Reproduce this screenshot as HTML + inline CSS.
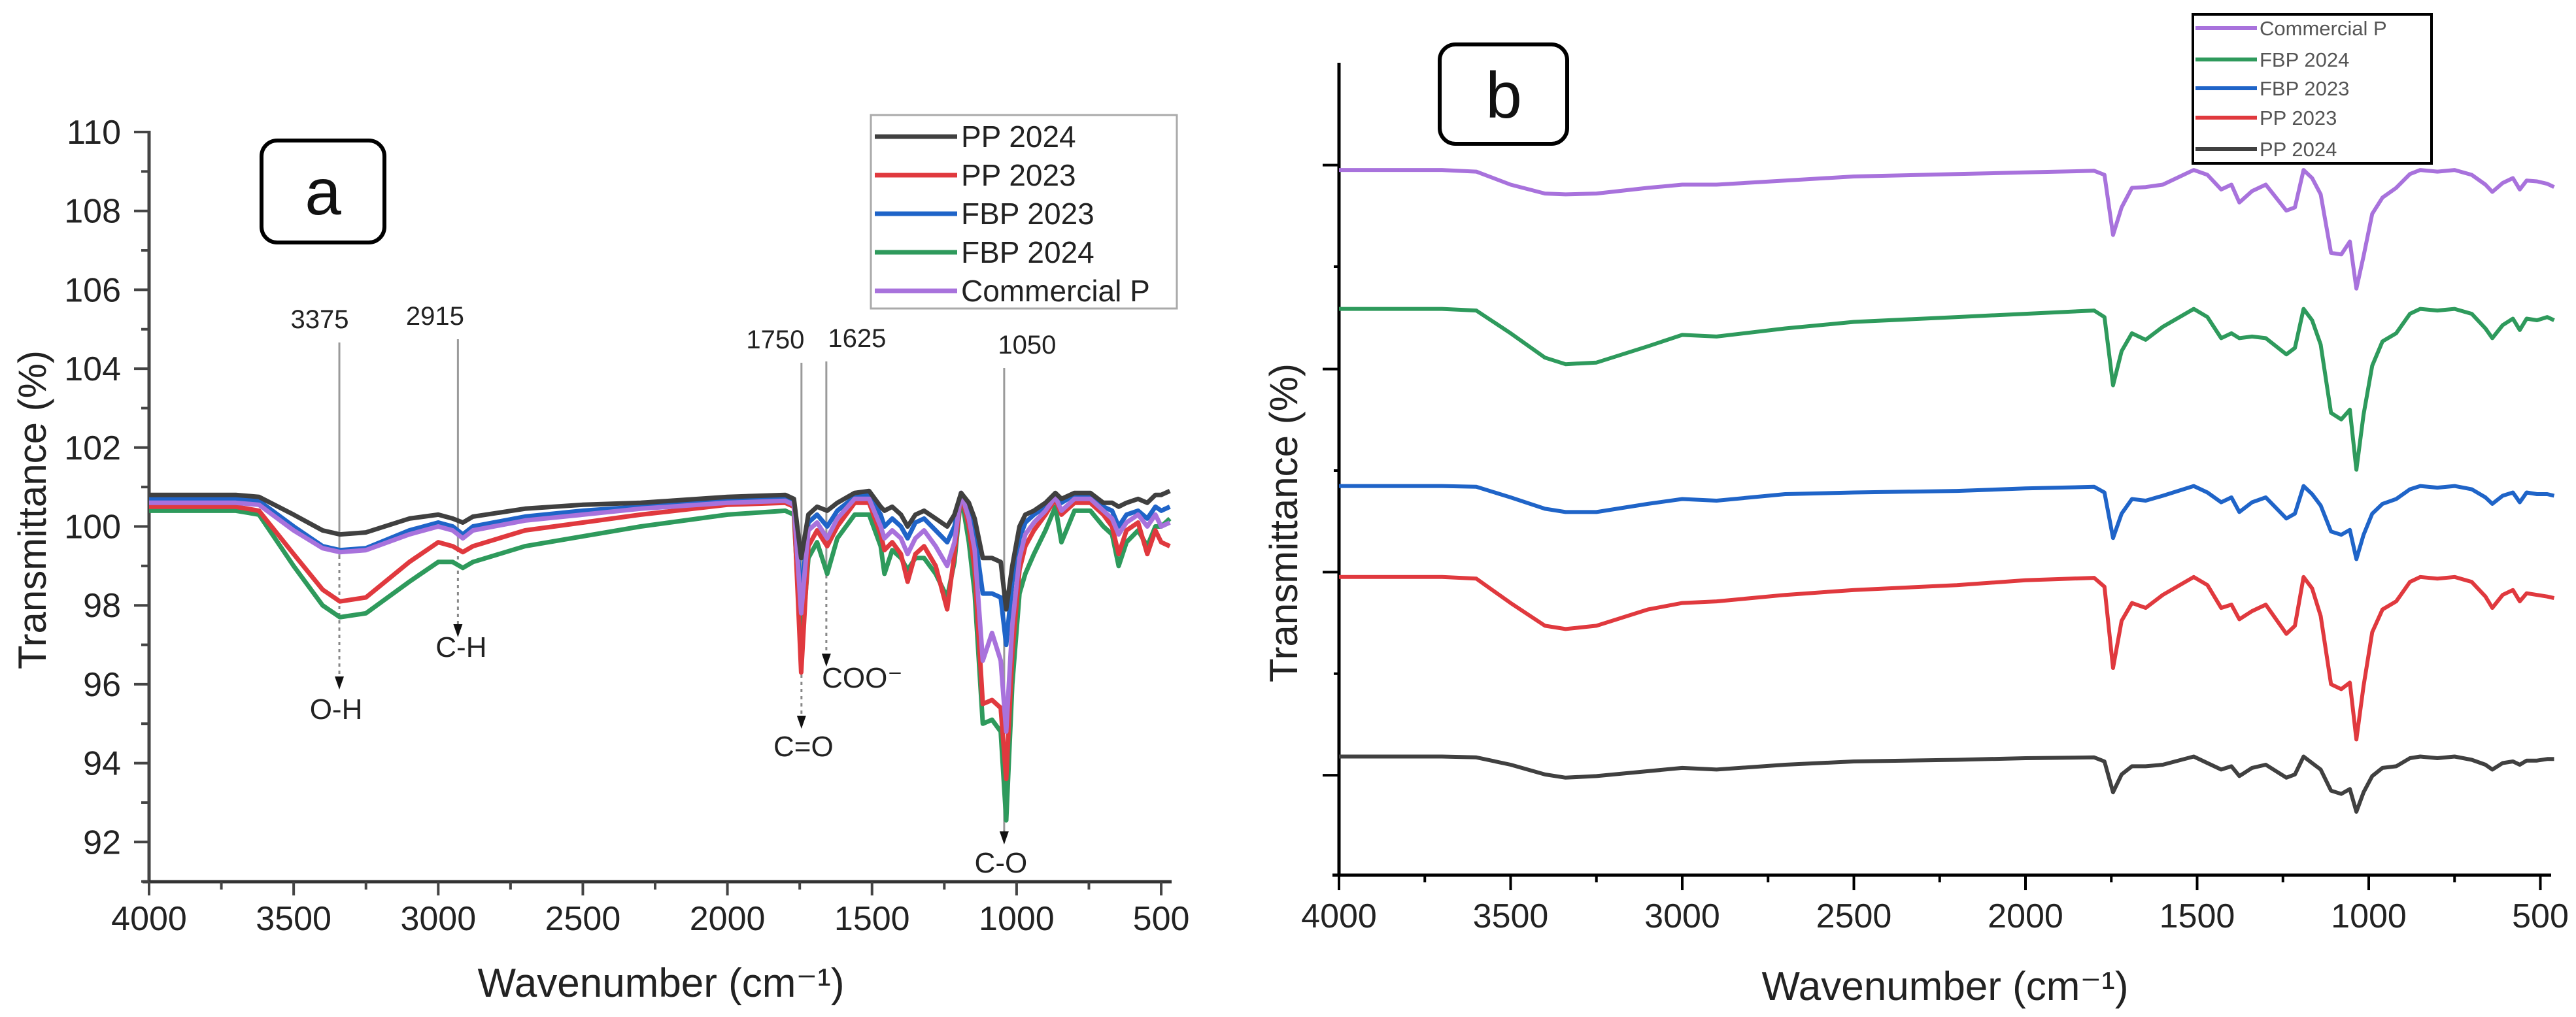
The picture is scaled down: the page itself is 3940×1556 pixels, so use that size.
<!DOCTYPE html>
<html><head><meta charset="utf-8"><style>
html,body{margin:0;padding:0;background:#fff;}
svg{display:block;font-family:"Liberation Sans",Arial,sans-serif;}
</style></head><body>
<svg id="fig" width="3940" height="1556" viewBox="0 0 3940 1556" xmlns="http://www.w3.org/2000/svg">
<rect width="3940" height="1556" fill="#fff"/>
<g id="pa"></g>
<g id="pb"></g>
</svg>
<script>
// ---------- Panel A data ----------
const wnA = [4000,3700,3620,3500,3400,3340,3250,3100,3000,2950,2915,2880,2700,2500,2300,2000,1800,1770,1745,1720,1690,1655,1620,1560,1510,1470,1457,1430,1400,1377,1350,1320,1280,1240,1215,1192,1165,1145,1117,1085,1055,1036,1015,990,970,940,900,866,845,800,745,700,670,647,620,580,548,520,500,470];
const aPP2024 = [100.8,100.8,100.75,100.3,99.9,99.8,99.85,100.2,100.3,100.2,100.1,100.25,100.45,100.55,100.6,100.75,100.8,100.7,99.2,100.3,100.5,100.4,100.6,100.85,100.9,100.5,100.4,100.5,100.3,100.0,100.3,100.4,100.2,100.0,100.3,100.85,100.6,100.2,99.2,99.2,99.1,97.9,99.0,100.0,100.3,100.4,100.6,100.85,100.7,100.85,100.85,100.6,100.6,100.5,100.6,100.7,100.6,100.8,100.8,100.9];
const aFBP2023 = [100.7,100.7,100.65,100.0,99.5,99.4,99.45,99.9,100.1,100.0,99.8,100.0,100.25,100.4,100.5,100.65,100.7,100.6,98.2,100.1,100.3,100.0,100.4,100.75,100.8,100.3,100.0,100.2,100.0,99.7,100.1,100.2,99.9,99.6,100.0,100.85,100.4,99.8,98.3,98.3,98.2,97.0,98.6,99.7,100.1,100.3,100.5,100.8,100.6,100.8,100.8,100.5,100.4,100.0,100.3,100.4,100.2,100.5,100.4,100.5];
const aComm = [100.6,100.6,100.55,99.9,99.45,99.35,99.4,99.8,100.0,99.9,99.7,99.9,100.15,100.3,100.45,100.6,100.65,100.55,97.8,99.9,100.1,99.7,100.2,100.7,100.7,100.0,99.7,99.9,99.7,99.3,99.7,99.9,99.5,99.0,99.6,100.85,100.2,99.4,96.6,97.3,96.6,94.8,97.5,99.2,99.8,100.1,100.4,100.75,100.4,100.7,100.7,100.4,100.2,99.8,100.1,100.3,100.0,100.3,100.0,100.1];
const aPP2023 = [100.5,100.5,100.4,99.3,98.4,98.1,98.2,99.1,99.6,99.5,99.35,99.5,99.9,100.1,100.3,100.55,100.6,100.5,96.3,99.5,99.9,99.5,100.0,100.6,100.6,99.8,99.4,99.6,99.3,98.6,99.3,99.5,99.0,97.9,99.3,100.85,100.0,98.9,95.5,95.6,95.4,93.6,96.8,98.9,99.5,99.9,100.3,100.7,100.3,100.6,100.6,100.3,100.0,99.3,99.9,100.1,99.3,99.9,99.6,99.5];
const aFBP2024 = [100.4,100.4,100.3,99.0,98.0,97.7,97.8,98.6,99.1,99.1,98.95,99.1,99.5,99.75,100.0,100.3,100.4,100.3,96.85,99.2,99.6,98.8,99.7,100.3,100.3,99.5,98.8,99.4,99.2,98.9,99.2,99.2,98.8,98.2,99.1,100.8,99.6,98.3,95.0,95.1,94.8,92.55,96.0,98.3,98.8,99.3,99.9,100.5,99.6,100.4,100.4,100.0,99.8,99.0,99.6,99.9,99.5,100.0,100.0,100.2];
const aYTicks = [92,94,96,98,100,102,104,106,108,110];
const aXTicks = [4000,3500,3000,2500,2000,1500,1000,500];
const aLegend = ["PP 2024","PP 2023","FBP 2023","FBP 2024","Commercial P"];
const annWn = [3342,2932,1744,1658,1043];
const annNum = ["3375","2915","1750","1625","1050"];
const annGroup = ["O-H","C-H","C=O","COO⁻","C-O"];

// ---------- Panel B data (relative, a.u.) ----------
const wnB = [4000,3700,3600,3500,3400,3340,3250,3100,3000,2900,2700,2500,2200,2000,1800,1770,1745,1720,1690,1650,1600,1510,1470,1430,1400,1377,1340,1300,1240,1215,1190,1165,1140,1110,1080,1055,1036,1015,990,960,920,880,850,800,750,700,660,640,610,580,560,540,510,480,460];
const bOffsets = [86.8,69.7,47.9,36.7,14.6];
const bComm = [0,0,-0.2,-1.8,-2.9,-3.0,-2.9,-2.2,-1.8,-1.8,-1.3,-0.8,-0.5,-0.3,-0.1,-0.6,-8.0,-4.6,-2.2,-2.1,-1.8,0,-0.6,-2.4,-1.8,-4.0,-2.6,-1.8,-5.0,-4.6,0,-1.0,-3.0,-10.2,-10.4,-8.8,-14.6,-10.6,-5.4,-3.4,-2.2,-0.5,0,-0.2,0,-0.6,-1.8,-2.7,-1.6,-1.0,-2.4,-1.3,-1.4,-1.7,-2.1];
const bFBP2024 = [0,0,-0.2,-3.0,-6.0,-6.8,-6.6,-4.6,-3.2,-3.4,-2.4,-1.6,-1.0,-0.6,-0.2,-1.0,-9.4,-5.2,-3.0,-3.8,-2.2,0,-1.0,-3.6,-3.0,-3.6,-3.4,-3.6,-5.6,-4.8,0,-1.4,-4.4,-12.8,-13.6,-12.4,-19.8,-13.0,-7.0,-4.0,-3.0,-0.6,0,-0.2,0,-0.6,-2.4,-3.6,-2.0,-1.2,-2.6,-1.2,-1.4,-1.0,-1.4];
const bFBP2023 = [0,0,-0.1,-1.4,-2.8,-3.2,-3.2,-2.2,-1.6,-1.8,-1.0,-0.8,-0.6,-0.3,-0.1,-0.8,-6.4,-3.4,-1.6,-1.8,-1.2,0,-0.8,-2.0,-1.4,-3.2,-2.0,-1.4,-4.0,-3.4,0,-1.0,-2.4,-5.6,-6.0,-5.4,-9.0,-6.0,-3.4,-2.2,-1.6,-0.4,0,-0.2,0,-0.4,-1.4,-2.2,-1.2,-0.8,-2.0,-0.8,-1.0,-1.0,-1.2];
const bPP2023 = [0,0,-0.2,-3.2,-6.0,-6.4,-6.0,-4.0,-3.2,-3.0,-2.2,-1.6,-1.0,-0.4,-0.1,-1.2,-11.2,-5.4,-3.2,-3.8,-2.2,0,-1.0,-3.8,-3.4,-5.2,-4.2,-3.4,-7.0,-6.0,0,-1.4,-4.8,-13.2,-13.8,-13.0,-20.0,-13.4,-6.8,-4.0,-3.0,-0.6,0,-0.2,0,-0.6,-2.4,-3.8,-2.2,-1.6,-3.0,-2.0,-2.2,-2.4,-2.6];
const bPP2024 = [0,0,-0.1,-1.0,-2.2,-2.6,-2.4,-1.8,-1.4,-1.6,-1.0,-0.6,-0.4,-0.2,-0.1,-0.6,-4.4,-2.2,-1.2,-1.2,-1.0,0,-0.8,-1.6,-1.2,-2.4,-1.4,-1.0,-2.6,-2.2,0,-0.8,-1.6,-4.2,-4.6,-4.0,-6.8,-4.4,-2.4,-1.4,-1.2,-0.2,0,-0.2,0,-0.4,-1.0,-1.6,-0.8,-0.6,-1.0,-0.5,-0.5,-0.3,-0.3];
const bLegend = ["Commercial P","FBP 2024","FBP 2023","PP 2023","PP 2024"];
const bYTicks = [12.3,37.3,62.3,87.4];
const bYMinor = [24.8,49.8,74.9];
const bXTicks = [4000,3500,3000,2500,2000,1500,1000,500];

const NS="http://www.w3.org/2000/svg";
function mk(parent,tag,attrs,text){const e=document.createElementNS(NS,tag);for(const k in attrs)e.setAttribute(k,attrs[k]);if(text!==undefined)e.textContent=text;parent.appendChild(e);return e;}
const C={black:"#404040",red:"#e0393e",blue:"#1f64c8",green:"#2e9a5c",purple:"#a872dc"};

// ---------- Panel A ----------
const pa=document.getElementById('pa');
const xA=w=>228+(4000-w)*0.4423;
const yA=v=>202+(110-v)*60.35;
function line(p,x1,y1,x2,y2,st,sw,extra){const l=mk(p,'line',Object.assign({x1,y1,x2,y2,stroke:st,'stroke-width':sw},extra||{}));return l;}
let ax=line(pa,228,200,228,1351,'#444',5);


ax=line(pa,218,1349,1792,1349,'#333',5);


for(let v=91;v<=110;v++){const maj=(v%2===0);const t=line(pa,maj?205:216,yA(v),228,yA(v),'#444',4);

}
aYTicks.forEach(v=>{const t=mk(pa,'text',{x:185,y:yA(v)+18,'font-size':52,'text-anchor':'end',fill:'#222'},String(v));

});
for(let w=4000;w>=500;w-=250){const maj=(w%500===0);const t=line(pa,xA(w),1349,xA(w),maj?1370:1361,'#444',4);

}
aXTicks.forEach(w=>{const t=mk(pa,'text',{x:xA(w),y:1423,'font-size':52,'text-anchor':'middle',fill:'#222'},String(w));

});
let tt=mk(pa,'text',{x:0,y:0,'font-size':60,'text-anchor':'middle',fill:'#222',transform:'translate(70,780) rotate(-90)'},'Transmittance (%)');


tt=mk(pa,'text',{x:1011,y:1525,'font-size':62,'text-anchor':'middle',fill:'#222'},'Wavenumber (cm⁻¹)');



// annotations
const annLY=[502,497,533,531,541];
const annLX=[-30,-35,-40,47,35];
const annSolidEnd=[850,840,1010,880,1270];
const annTip=[1055,975,1115,1020,1292];
const annGY=[1100,1005,1157,1052,1335];
const annGX=[-5,5,3,55,-5];
annWn.forEach((w,i)=>{const x=xA(w);
const g=mk(pa,'g',{});


mk(g,'text',{x:x+annLX[i],y:annLY[i],'font-size':40,'text-anchor':'middle',fill:'#222'},annNum[i]);
mk(g,'line',{x1:x,y1:annLY[i]+22,x2:x,y2:annSolidEnd[i],stroke:'#9a9a9a','stroke-width':3});
mk(g,'line',{x1:x,y1:annSolidEnd[i],x2:x,y2:annTip[i]-18,stroke:'#888','stroke-width':3,'stroke-dasharray':'5 6'});
mk(g,'path',{d:`M${x-7},${annTip[i]-20} L${x+7},${annTip[i]-20} L${x},${annTip[i]} Z`,fill:'#111'});
mk(g,'text',{x:x+annGX[i],y:annGY[i],'font-size':44,'text-anchor':'middle',fill:'#222'},annGroup[i]);
});

function pathD(wn,vals,xf,yf){return vals.map((v,i)=>(i?'L':'M')+xf(wn[i]).toFixed(1)+','+yf(v).toFixed(1)).join(' ');}
const aSeries=[[aFBP2024,C.green,'series-fbp-2024-a'],[aPP2023,C.red,'series-pp-2023-a'],[aFBP2023,C.blue,'series-fbp-2023-a'],[aComm,C.purple,'series-commercial-p-a'],[aPP2024,C.black,'series-pp-2024-a']];
aSeries.forEach(s=>{const p=mk(pa,'path',{d:pathD(wnA,s[0],xA,yA),fill:'none',stroke:s[1],'stroke-width':7,'stroke-linejoin':'round'});

});

// legend a
const lg=mk(pa,'g',{});


mk(lg,'rect',{x:1332,y:176,width:468,height:296,fill:'#fff',stroke:'#aaa','stroke-width':3});
const aLegCol=[C.black,C.red,C.blue,C.green,C.purple];
aLegend.forEach((n,i)=>{const y=209+i*59;
const e=mk(lg,'g',{});


mk(e,'line',{x1:1338,y1:y,x2:1464,y2:y,stroke:aLegCol[i],'stroke-width':7});
mk(e,'text',{x:1470,y:y+16,'font-size':46,fill:'#222'},n);});
// label a
const la=mk(pa,'g',{});


mk(la,'rect',{x:400,y:215,width:188,height:156,rx:24,fill:'#fff',stroke:'#000','stroke-width':6});
mk(la,'text',{x:494,y:328,'font-size':100,'text-anchor':'middle',fill:'#111'},'a');

// ---------- Panel B ----------
const pb=document.getElementById('pb');
const xB=w=>2048+(4000-w)*0.525;
const yB=v=>1339-v*12.43;
ax=line(pb,2048,96,2048,1341,'#000',5);


ax=line(pb,2038,1339,3902,1339,'#000',5);


bYTicks.forEach(v=>{const t=line(pb,2023,yB(v),2048,yB(v),'#000',4);

});
bYMinor.forEach(v=>{const t=line(pb,2040,yB(v),2048,yB(v),'#000',4);

});
for(let w=4000;w>=500;w-=250){const maj=(w%500===0);const t=line(pb,xB(w),1339,xB(w),maj?1362:1350,'#000',4);

}
bXTicks.forEach(w=>{const t=mk(pb,'text',{x:xB(w),y:1419,'font-size':52,'text-anchor':'middle',fill:'#222'},String(w));

});
tt=mk(pb,'text',{x:0,y:0,'font-size':60,'text-anchor':'middle',fill:'#222',transform:'translate(1984,800) rotate(-90)'},'Transmittance (%)');


tt=mk(pb,'text',{x:2975,y:1530,'font-size':62,'text-anchor':'middle',fill:'#222'},'Wavenumber (cm⁻¹)');


const bSeries=[[bComm,0,C.purple,'series-commercial-p-b'],[bFBP2024,1,C.green,'series-fbp-2024-b'],[bFBP2023,2,C.blue,'series-fbp-2023-b'],[bPP2023,3,C.red,'series-pp-2023-b'],[bPP2024,4,C.black,'series-pp-2024-b']];
bSeries.forEach(s=>{const off=bOffsets[s[1]];const p=mk(pb,'path',{d:pathD(wnB,s[0].map(v=>v+off),xB,yB),fill:'none',stroke:s[2],'stroke-width':6,'stroke-linejoin':'round'});

});
const lb=mk(pb,'g',{});


mk(lb,'rect',{x:3354,y:22,width:365,height:228,fill:'#fff',stroke:'#000','stroke-width':4});
const bLegCol=[C.purple,C.green,C.blue,C.red,C.black];
const bLegY=[43,91,135,180,228];
bLegend.forEach((n,i)=>{const y=bLegY[i];
const e=mk(lb,'g',{});


mk(e,'line',{x1:3358,y1:y,x2:3452,y2:y,stroke:bLegCol[i],'stroke-width':6});
mk(e,'text',{x:3456,y:y+11,'font-size':31,fill:'#555'},n);});
const lbb=mk(pb,'g',{});


mk(lbb,'rect',{x:2202,y:68,width:195,height:152,rx:24,fill:'#fff',stroke:'#000','stroke-width':6});
mk(lbb,'text',{x:2300,y:180,'font-size':100,'text-anchor':'middle',fill:'#111'},'b');
</script>
</body></html>
